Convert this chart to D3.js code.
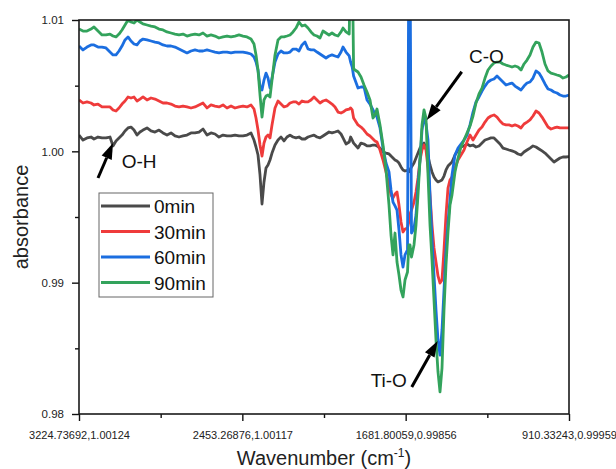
<!DOCTYPE html>
<html>
<head>
<meta charset="utf-8">
<script src="https://cdn.jsdelivr.net/npm/d3@7"></script>
<style>
  html, body { margin: 0; padding: 0; background: #fff; }
  svg { display: block; font-family: "Liberation Sans", Arial, sans-serif; }
</style>
</head>
<body>
<svg id="chart" width="616" height="469"></svg>
<script>
// FTIR spectra (absorbance vs wavenumber) after 0, 30, 60 and 90 min
const wavenumber = [
  3224.74, 3205.85, 3186.95, 3168.06, 3153.89, 3135.00, 3116.10, 3097.21, 3078.31, 3064.14,
  3049.97, 3035.80, 3021.63, 3007.46, 2993.30, 2979.13, 2964.96, 2950.79, 2936.62, 2922.45,
  2903.56, 2884.66, 2865.77, 2846.87, 2827.98, 2809.09, 2790.19, 2771.30, 2752.40, 2733.51,
  2714.62, 2695.72, 2676.83, 2657.93, 2639.04, 2620.15, 2601.25, 2582.36, 2563.47, 2544.57,
  2525.68, 2506.78, 2487.89, 2469.00, 2450.10, 2431.21, 2412.31, 2398.15, 2388.70, 2379.25,
  2369.81, 2360.36, 2350.92, 2341.47, 2332.02, 2322.58, 2313.13, 2298.96, 2284.79, 2270.62,
  2256.45, 2242.28, 2228.11, 2213.94, 2199.77, 2185.60, 2171.43, 2157.26, 2143.09, 2128.92,
  2114.75, 2100.58, 2086.41, 2072.24, 2058.07, 2043.90, 2029.73, 2015.56, 2001.39, 1987.22,
  1977.77, 1963.60, 1948.49, 1941.88, 1934.32, 1927.71, 1906.93, 1892.76, 1878.59, 1864.42,
  1850.25, 1836.08, 1826.63, 1817.19, 1803.02, 1788.85, 1774.68, 1760.51, 1751.06, 1741.62,
  1732.17, 1722.72, 1713.28, 1703.83, 1694.38, 1684.94, 1673.12, 1666.98, 1661.31, 1654.23,
  1642.43, 1632.98, 1623.53, 1614.09, 1604.64, 1595.19, 1585.75, 1576.30, 1566.86, 1557.41,
  1547.96, 1538.52, 1529.07, 1519.62, 1510.18, 1500.73, 1491.28, 1481.84, 1472.39, 1462.95,
  1448.78, 1434.61, 1420.44, 1406.27, 1392.10, 1377.93, 1363.76, 1349.59, 1335.42, 1321.25,
  1307.08, 1292.91, 1278.74, 1264.57, 1250.40, 1236.23, 1222.06, 1207.89, 1193.72, 1179.55,
  1165.38, 1151.21, 1137.04, 1122.87, 1108.70, 1094.53, 1080.36, 1066.19, 1052.02, 1037.85,
  1023.68, 1009.51, 995.34, 981.17, 967.00, 952.83, 938.66, 924.49, 910.33
];

const absorbance0min = [
  1.00124, 1.00086, 1.00102, 1.00109, 1.00094, 1.00109, 1.00102, 1.00102, 1.00109, 1.00041,
  1.00079, 1.00102, 1.00124, 1.00155, 1.00178, 1.00185, 1.00162, 1.00124, 1.00147, 1.00162,
  1.00178, 1.00155, 1.00147, 1.00162, 1.00140, 1.00124, 1.00140, 1.00117, 1.00109, 1.00117,
  1.00124, 1.00140, 1.00140, 1.00147, 1.00170, 1.00124, 1.00140, 1.00132, 1.00109, 1.00124,
  1.00117, 1.00117, 1.00124, 1.00117, 1.00117, 1.00124, 1.00140, 1.00086, 1.00033, 0.99972,
  0.99820, 0.99599, 0.99767, 0.99873, 0.99896, 0.99934, 0.99987, 1.00048, 1.00086, 1.00109,
  1.00079, 1.00109, 1.00124, 1.00109, 1.00102, 1.00109, 1.00094, 1.00094, 1.00109, 1.00117,
  1.00124, 1.00109, 1.00102, 1.00117, 1.00132, 1.00147, 1.00140, 1.00147, 1.00155, 1.00132,
  1.00102, 1.00056, 1.00071, 1.00109, 1.00086, 1.00063, 1.00025, 1.00063, 1.00056, 1.00041,
  1.00041, 1.00048, 1.00048, 1.00041, 1.00025, 0.99995, 0.99987, 0.99980, 0.99964, 0.99949,
  0.99934, 0.99926, 0.99911, 0.99881, 0.99858, 0.99850, 0.99856, 0.99843, 0.99858, 0.99881,
  0.99911, 0.99949, 0.99987, 1.00025, 1.00048, 1.00063, 1.00025, 0.99964, 0.99896, 0.99843,
  0.99805, 0.99782, 0.99767, 0.99774, 0.99782, 0.99812, 0.99858, 0.99888, 0.99904, 0.99919,
  0.99972, 1.00010, 1.00033, 1.00041, 1.00056, 1.00041, 1.00048, 1.00033, 1.00041, 1.00063,
  1.00086, 1.00094, 1.00102, 1.00102, 1.00079, 1.00056, 1.00025, 1.00018, 1.00010, 1.00003,
  0.99995, 0.99980, 0.99972, 0.99995, 1.00010, 1.00025, 1.00041, 1.00033, 1.00018, 1.00003,
  0.99987, 0.99964, 0.99942, 0.99919, 0.99934, 0.99949, 0.99957, 0.99957, 0.99959
];

const absorbance30min = [
  1.00391, 1.00368, 1.00376, 1.00368, 1.00353, 1.00360, 1.00338, 1.00338, 1.00338, 1.00315,
  1.00307, 1.00330, 1.00360, 1.00383, 1.00414, 1.00406, 1.00414, 1.00383, 1.00398, 1.00414,
  1.00391, 1.00406, 1.00398, 1.00383, 1.00368, 1.00368, 1.00360, 1.00345, 1.00338, 1.00345,
  1.00338, 1.00330, 1.00338, 1.00353, 1.00368, 1.00330, 1.00353, 1.00345, 1.00338, 1.00353,
  1.00330, 1.00345, 1.00330, 1.00338, 1.00345, 1.00338, 1.00353, 1.00322, 1.00254, 1.00162,
  1.00048, 0.99964, 1.00063, 1.00109, 1.00124, 1.00102, 1.00201, 1.00330, 1.00383, 1.00360,
  1.00338, 1.00345, 1.00368, 1.00376, 1.00376, 1.00360, 1.00383, 1.00376, 1.00376, 1.00391,
  1.00414, 1.00391, 1.00368, 1.00383, 1.00391, 1.00376, 1.00360, 1.00338, 1.00299, 1.00292,
  1.00299, 1.00315, 1.00322, 1.00330, 1.00315, 1.00254, 1.00201, 1.00185, 1.00162, 1.00132,
  1.00117, 1.00094, 1.00079, 1.00071, 1.00010, 0.99934, 0.99843, 0.99744, 0.99668, 0.99645,
  0.99675, 0.99690, 0.99591, 0.99462, 0.99386, 0.99409, 0.99416, 0.99462, 0.99523, 0.99553,
  0.99614, 0.99690, 0.99797, 0.99934, 1.00010, 1.00048, 1.00010, 0.99873, 0.99668, 0.99439,
  0.99264, 0.99157, 0.99051, 0.98997, 0.99020, 0.99249, 0.99515, 0.99721, 0.99782, 0.99805,
  0.99873, 0.99934, 0.99972, 1.00010, 1.00071, 1.00124, 1.00086, 1.00124, 1.00162, 1.00185,
  1.00223, 1.00254, 1.00269, 1.00277, 1.00261, 1.00231, 1.00208, 1.00201, 1.00201, 1.00193,
  1.00201, 1.00193, 1.00178, 1.00208, 1.00223, 1.00239, 1.00269, 1.00307, 1.00292, 1.00261,
  1.00223, 1.00185, 1.00170, 1.00178, 1.00185, 1.00178, 1.00178, 1.00178, 1.00178
];

const absorbance60min = [
  1.00802, 1.00772, 1.00794, 1.00810, 1.00810, 1.00794, 1.00794, 1.00787, 1.00756, 1.00734,
  1.00734, 1.00764, 1.00802, 1.00848, 1.00871, 1.00840, 1.00817, 1.00810, 1.00840, 1.00855,
  1.00848, 1.00840, 1.00832, 1.00825, 1.00810, 1.00802, 1.00802, 1.00794, 1.00779, 1.00764,
  1.00749, 1.00764, 1.00772, 1.00764, 1.00764, 1.00772, 1.00764, 1.00756, 1.00749, 1.00756,
  1.00756, 1.00749, 1.00756, 1.00756, 1.00756, 1.00749, 1.00741, 1.00718, 1.00680, 1.00619,
  1.00497, 1.00467, 1.00543, 1.00596, 1.00558, 1.00482, 1.00558, 1.00680, 1.00741, 1.00764,
  1.00749, 1.00749, 1.00756, 1.00779, 1.00779, 1.00764, 1.00810, 1.00832, 1.00779, 1.00772,
  1.00772, 1.00756, 1.00741, 1.00726, 1.00711, 1.00726, 1.00734, 1.00726, 1.00718, 1.00756,
  1.00794, 1.00756, 1.00726, 1.00680, 1.00642, 1.00574, 1.00482, 1.00490, 1.00490, 1.00391,
  1.00360, 1.00315, 1.00284, 1.00261, 1.00178, 1.00025, 0.99911, 0.99843, 0.99706, 0.99614,
  0.99584, 0.99553, 0.99401, 0.99211, 0.99119, 0.99211, 0.99249, 1.01500, 1.01500, 0.99378,
  0.99416, 0.99515, 0.99744, 0.99934, 1.00162, 1.00254, 1.00208, 1.00086, 0.99668, 0.99325,
  0.99058, 0.98792, 0.98563, 0.98449, 0.98640, 0.98944, 0.99249, 0.99462, 0.99629, 0.99820,
  0.99972, 1.00025, 1.00056, 1.00086, 1.00124, 1.00201, 1.00299, 1.00376, 1.00414, 1.00459,
  1.00497, 1.00528, 1.00543, 1.00551, 1.00574, 1.00551, 1.00528, 1.00505, 1.00513, 1.00520,
  1.00497, 1.00482, 1.00467, 1.00497, 1.00520, 1.00528, 1.00558, 1.00612, 1.00596, 1.00558,
  1.00513, 1.00475, 1.00467, 1.00452, 1.00444, 1.00429, 1.00421, 1.00421, 1.00429
];

const absorbance90min = [
  1.00931, 1.00916, 1.00916, 1.00931, 1.00947, 1.00916, 1.00886, 1.00886, 1.00893, 1.00878,
  1.00871, 1.00893, 1.00924, 1.00962, 1.01000, 1.00985, 1.00977, 1.01000, 1.00985, 1.00970,
  1.00962, 1.00954, 1.00947, 1.00931, 1.00924, 1.00909, 1.00901, 1.00893, 1.00886, 1.00893,
  1.00878, 1.00886, 1.00893, 1.00886, 1.00901, 1.00878, 1.00886, 1.00878, 1.00863, 1.00871,
  1.00878, 1.00871, 1.00878, 1.00886, 1.00878, 1.00871, 1.00855, 1.00817, 1.00734, 1.00619,
  1.00429, 1.00261, 1.00391, 1.00421, 1.00429, 1.00414, 1.00543, 1.00734, 1.00848, 1.00871,
  1.00871, 1.00878, 1.00886, 1.00909, 1.00939, 1.00985, 1.00954, 1.00962, 1.00939, 1.00909,
  1.00886, 1.00878, 1.00863, 1.00916, 1.00901, 1.00886, 1.00901, 1.00886, 1.00878, 1.00909,
  1.00939, 1.00909, 1.00893, 1.01500, 1.01500, 1.00627, 1.00604, 1.00566, 1.00505, 1.00452,
  1.00391, 1.00254, 1.00277, 1.00322, 1.00201, 1.00048, 0.99858, 0.99591, 0.99363, 0.99211,
  0.99378, 0.99157, 0.99058, 0.98944, 0.98891, 0.99020, 0.99081, 0.99287, 0.99287, 0.99195,
  0.99287, 0.99439, 0.99668, 0.99934, 1.00201, 1.00315, 1.00254, 0.99820, 0.99439, 0.99173,
  0.98868, 0.98563, 0.98320, 0.98168, 0.98350, 0.98792, 0.99135, 0.99386, 0.99591, 0.99668,
  0.99843, 0.99949, 1.00033, 1.00086, 1.00140, 1.00193, 1.00269, 1.00368, 1.00437, 1.00482,
  1.00558, 1.00619, 1.00650, 1.00673, 1.00680, 1.00680, 1.00665, 1.00657, 1.00650, 1.00642,
  1.00650, 1.00642, 1.00619, 1.00665, 1.00695, 1.00734, 1.00794, 1.00832, 1.00825, 1.00756,
  1.00665, 1.00612, 1.00596, 1.00589, 1.00581, 1.00574, 1.00558, 1.00566, 1.00581
];

const seriesNames = ["0min", "30min", "60min", "90min"];
const seriesValues = [absorbance0min, absorbance30min, absorbance60min, absorbance90min];
const seriesColors = ["#4a4a4a", "#ef3b3b", "#1b6ee0", "#33a35c"];

// x ticks are labelled with "wavenumber,absorbance" readouts of the 0min trace
const xTickValues = [3224.73692, 2453.26876, 1681.80059, 910.33243];
const xTickLabels = ["3224.73692,1.00124", "2453.26876,1.00117", "1681.80059,0.99856", "910.33243,0.99959"];
const yTickValues = [0.98, 0.99, 1.00, 1.01];

// band assignments: arrow tip, arrow tail, label anchor (data coordinates)
const bandLabels = [
  { text: "O-H", tip: [3064, 1.00063], tail: [3135, 0.99797], at: [3023, 0.99873], anchor: "start" },
  { text: "C-O", tip: [1582, 1.00239], tail: [1417, 1.00606], at: [1383, 1.00670], anchor: "start" },
  { text: "Ti-O", tip: [1531, 0.98556], tail: [1653, 0.98206], at: [1676, 0.98202], anchor: "end" }
];

const W = 616, H = 469;
const plot = { left: 79, right: 569, top: 20, bottom: 414 };

const svg = d3.select("#chart");
svg.append("rect").attr("width", W).attr("height", H).attr("fill", "#fff");

const x = d3.scaleLinear().domain([xTickValues[0], xTickValues[3]]).range([plot.left, plot.right]);
const y = d3.scaleLinear().domain([0.98, 1.01]).range([plot.bottom, plot.top]);

svg.append("clipPath").attr("id", "plot-clip")
  .append("rect")
  .attr("x", plot.left).attr("y", plot.top)
  .attr("width", plot.right - plot.left).attr("height", plot.bottom - plot.top);

const line = d3.line().x(d => x(d[0])).y(d => y(d[1]));

const traces = svg.append("g").attr("clip-path", "url(#plot-clip)");
seriesValues.forEach((vals, k) => {
  traces.append("path")
    .datum(wavenumber.map((w, i) => [w, vals[i]]))
    .attr("d", line)
    .attr("fill", "none")
    .attr("stroke", seriesColors[k])
    .attr("stroke-width", 2.8)
    .attr("stroke-linejoin", "round");
});

// axes
const minorX = d3.pairs(xTickValues).map(([a, b]) => (a + b) / 2);
const minorY = d3.pairs(yTickValues).map(([a, b]) => (a + b) / 2);

const xAxis = svg.append("g").attr("transform", `translate(0,${plot.bottom})`)
  .call(d3.axisBottom(x).tickValues(xTickValues)
    .tickFormat((d, i) => xTickLabels[i]).tickSizeInner(7).tickSizeOuter(0).tickPadding(10));
svg.append("g").attr("transform", `translate(0,${plot.bottom})`)
  .call(d3.axisBottom(x).tickValues(minorX).tickFormat("").tickSizeInner(4).tickSizeOuter(0));

const yAxis = svg.append("g").attr("transform", `translate(${plot.left},0)`)
  .call(d3.axisLeft(y).tickValues(yTickValues).tickFormat(d3.format(".2f"))
    .tickSizeInner(7).tickSizeOuter(0).tickPadding(8));
svg.append("g").attr("transform", `translate(${plot.left},0)`)
  .call(d3.axisLeft(y).tickValues(minorY).tickFormat("").tickSizeInner(4).tickSizeOuter(0));

svg.selectAll(".domain").remove();
svg.selectAll(".tick line").attr("stroke", "#111").attr("stroke-width", 1.4);
xAxis.selectAll("text").attr("font-size", 11).attr("fill", "#222")
  .attr("font-family", "Liberation Sans, Arial, sans-serif");
yAxis.selectAll("text").attr("font-size", 11.5).attr("fill", "#222")
  .attr("font-family", "Liberation Sans, Arial, sans-serif");

// frame
svg.append("rect")
  .attr("x", plot.left).attr("y", plot.top)
  .attr("width", plot.right - plot.left).attr("height", plot.bottom - plot.top)
  .attr("fill", "none").attr("stroke", "#1a1a1a").attr("stroke-width", 1.6);

// axis titles
const xTitle = svg.append("text")
  .attr("x", (plot.left + plot.right) / 2).attr("y", 465)
  .attr("text-anchor", "middle").attr("font-size", 20).attr("fill", "#222");
xTitle.append("tspan").text("Wavenumber (cm");
xTitle.append("tspan").attr("font-size", 12).attr("dy", -8).text("-1");
xTitle.append("tspan").attr("dy", 8).text(")");

svg.append("text")
  .attr("transform", `translate(28,${(plot.top + plot.bottom) / 2}) rotate(-90)`)
  .attr("text-anchor", "middle").attr("font-size", 20).attr("fill", "#222")
  .text("absorbance");

// band annotations
const ann = svg.append("g");
bandLabels.forEach(b => {
  const [tx, ty] = [x(b.tip[0]), y(b.tip[1])];
  const [sx, sy] = [x(b.tail[0]), y(b.tail[1])];
  const ang = Math.atan2(ty - sy, tx - sx);
  const headLen = 16, headHalf = 5.5;
  const bx = tx - headLen * Math.cos(ang), by = ty - headLen * Math.sin(ang);
  ann.append("line")
    .attr("x1", sx).attr("y1", sy).attr("x2", bx).attr("y2", by)
    .attr("stroke", "#000").attr("stroke-width", 3);
  const px = -Math.sin(ang), py = Math.cos(ang);
  ann.append("path")
    .attr("d", `M${tx},${ty}L${bx + px * headHalf},${by + py * headHalf}L${bx - px * headHalf},${by - py * headHalf}Z`)
    .attr("fill", "#000");
  ann.append("text")
    .attr("x", x(b.at[0])).attr("y", y(b.at[1]))
    .attr("text-anchor", b.anchor).attr("font-size", 19).attr("fill", "#111")
    .text(b.text);
});

// legend
const lg = svg.append("g").attr("transform", "translate(99,193)");
lg.append("rect").attr("width", 114).attr("height", 104)
  .attr("fill", "#fff").attr("stroke", "#666").attr("stroke-width", 1);
seriesNames.forEach((name, k) => {
  const yy = 13 + k * 25.5;
  lg.append("line").attr("x1", 2).attr("x2", 51).attr("y1", yy).attr("y2", yy)
    .attr("stroke", seriesColors[k]).attr("stroke-width", 3);
  lg.append("text").attr("x", 55).attr("y", yy + 7)
    .attr("font-size", 19).attr("fill", "#111").text(name);
});
</script>
</body>
</html>
